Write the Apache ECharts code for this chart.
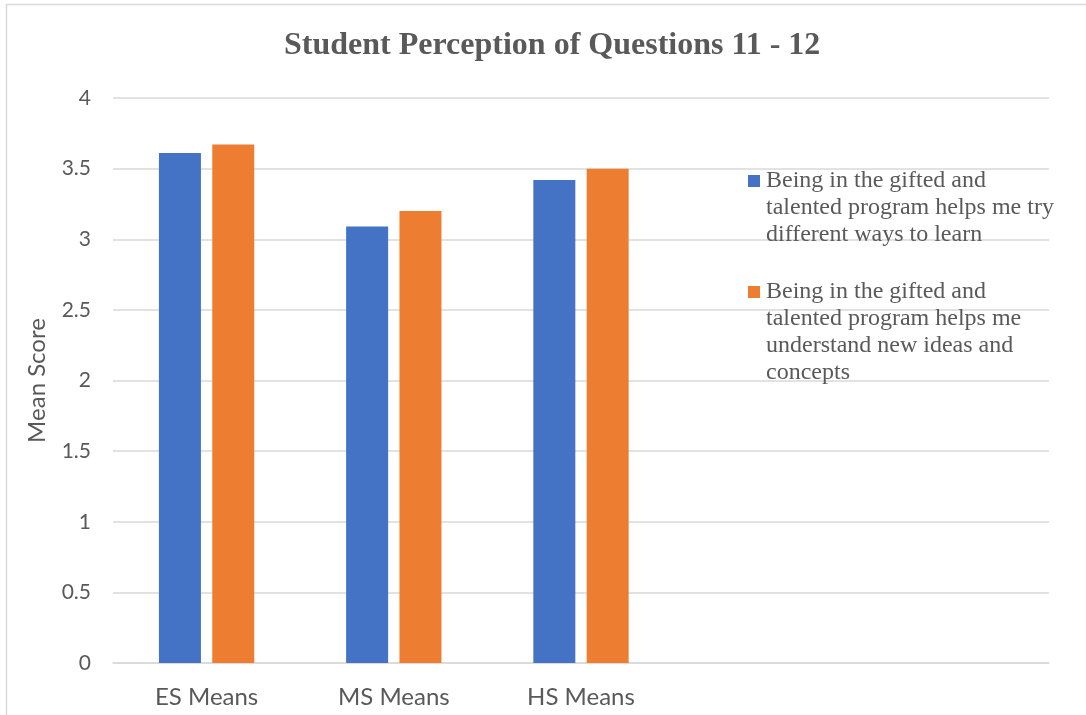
<!DOCTYPE html>
<html>
<head>
<meta charset="utf-8">
<script src="https://cdn.jsdelivr.net/npm/echarts@6/dist/echarts.min.js"></script>
<style>html,body{margin:0;padding:0;background:#fff;}#c{width:1086px;height:715px;}</style>
</head>
<body>
<div id="c"></div>
<script>
const categories = ['ES Means', 'MS Means', 'HS Means', '', ''];
const seriesNames = [
  'Being in the gifted and\ntalented program helps me try\ndifferent ways to learn',
  'Being in the gifted and\ntalented program helps me\nunderstand new ideas and\nconcepts'
];
const tryWaysValues = [3.61, 3.09, 3.42];
const understandValues = [3.67, 3.20, 3.50];
const yTicks = [0, 0.5, 1, 1.5, 2, 2.5, 3, 3.5, 4];

const chart = echarts.init(document.getElementById('c'));
const LH = 27;
function legendFor(name, lines, iconCenterY) {
  // prepend blank lines so the first text line is centred on the icon
  const prefix = '\n'.repeat(lines - 1);
  return {
    show: true,
    data: [name],
    orient: 'vertical',
    left: 748,
    top: iconCenterY - (2 * lines - 1) * LH / 2,
    padding: 0,
    itemWidth: 12,
    itemHeight: 12,
    icon: 'rect',
    selectedMode: false,
    formatter: function (n) { return prefix + n; },
    textStyle: {
      fontFamily: '"Liberation Serif", "Times New Roman", serif',
      fontSize: 24,
      color: '#595959',
      lineHeight: LH,
      padding: [0, 0, 0, 1]
    }
  };
}
chart.setOption({
  animation: false,
  color: ['#4472C4', '#ED7D31'],
  title: {
    text: 'Student Perception of Questions 11 - 12',
    left: 284,
    top: 30,
    padding: 0,
    textStyle: {
      fontFamily: '"Liberation Serif", "Times New Roman", serif',
      fontWeight: 'bold',
      fontSize: 32,
      color: '#595959'
    }
  },
  graphic: [{
    type: 'rect',
    shape: { x: 6.5, y: 4.5, width: 1200, height: 800 },
    style: { fill: 'none', stroke: '#d9d9d9', lineWidth: 1.5 },
    z: -1
  }],
  legend: [
    legendFor(seriesNames[0], 3, 181),
    legendFor(seriesNames[1], 4, 292)
  ],
  grid: { left: 113, right: 37, top: 98, bottom: 52 },
  xAxis: {
    type: 'category',
    data: categories,
    axisLine: { lineStyle: { color: '#d9d9d9', width: 1.5 } },
    axisTick: { show: false },
    axisLabel: {
      fontFamily: 'Lato, "Noto Sans", sans-serif',
      fontSize: 24,
      color: '#595959',
      margin: 22
    }
  },
  yAxis: {
    type: 'value',
    min: 0,
    max: 4,
    interval: 0.5,
    name: 'Mean Score',
    nameLocation: 'middle',
    nameGap: 64,
    nameTextStyle: {
      fontFamily: 'Lato, "Noto Sans", sans-serif',
      fontSize: 24,
      color: '#595959'
    },
    axisLine: { show: false },
    axisTick: { show: false },
    splitLine: { lineStyle: { color: '#d9d9d9', width: 1.5 } },
    axisLabel: {
      fontFamily: 'Lato, "Noto Sans", sans-serif',
      fontSize: 21,
      color: '#595959',
      margin: 22,
      formatter: function (v) { return yTicks.indexOf(v) >= 0 ? String(v) : ''; }
    }
  },
  series: [
    { name: seriesNames[0], type: 'bar', data: tryWaysValues, barWidth: 42, barGap: '27%' },
    { name: seriesNames[1], type: 'bar', data: understandValues, barWidth: 42, barGap: '27%' }
  ]
});
</script>
</body>
</html>
